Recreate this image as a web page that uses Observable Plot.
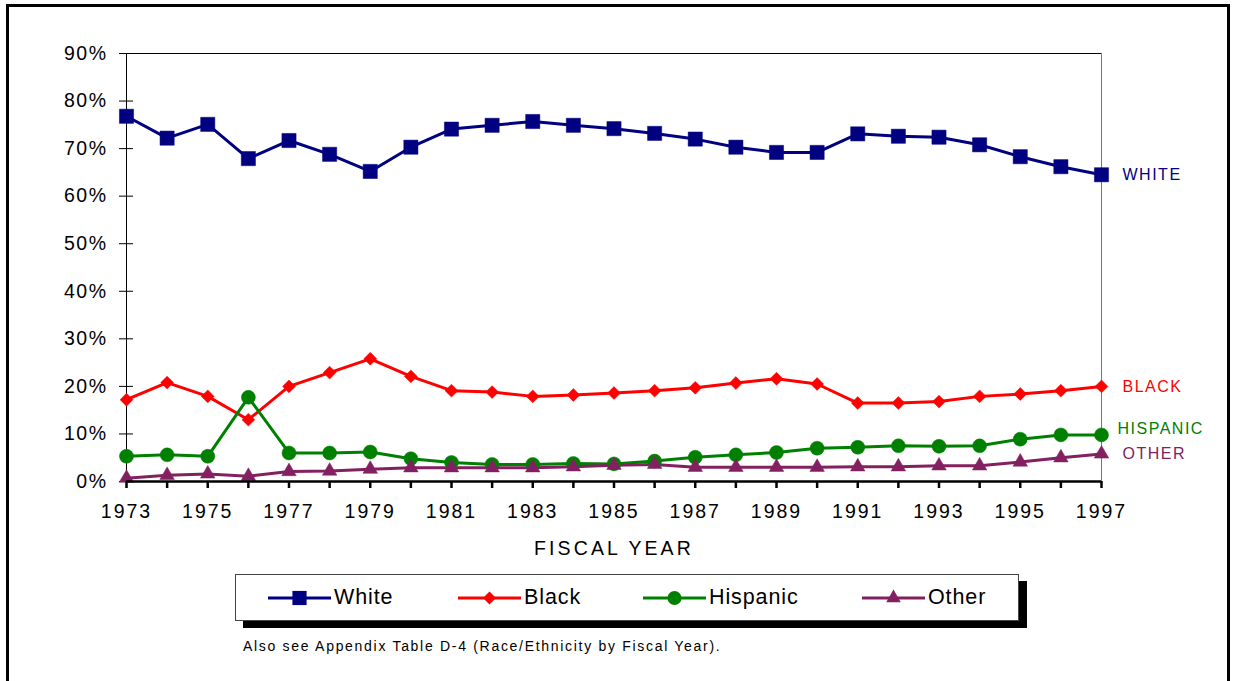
<!DOCTYPE html>
<html>
<head>
<meta charset="utf-8">
<script src="https://cdn.jsdelivr.net/npm/d3@7"></script>
<script src="https://cdn.jsdelivr.net/npm/@observablehq/plot@0.6"></script>
<style>
  body { margin: 0; background: #fff; font-family: "Liberation Sans", Arial, sans-serif; }
  #wrap { position: relative; width: 1233px; height: 681px; overflow: hidden; background: #fff; }
  #frame { position: absolute; left: 6px; top: 4px; width: 1218px; height: 720px; border: 3px solid #000; box-sizing: content-box; }
  #chart { position: absolute; left: 0; top: 0; }
  #legend { position: absolute; left: 235px; top: 574px; width: 782px; height: 45px; border: 1px solid #444; box-shadow: 8px 7px 0 #000; background: #fff; }
  .item { position: absolute; top: 0; height: 45px; display: flex; align-items: center; font-size: 21.5px; letter-spacing: 0.9px; color: #000; }
  .item svg { display: block; margin-right: 3px; }
  #caption { position: absolute; left: 243px; top: 638px; font-size: 14px; letter-spacing: 1.7px; color: #000; }
</style>
</head>
<body>
<div id="wrap">
  <div id="frame"></div>
  <div id="chart"></div>
  <div id="legend"></div>
  <div id="caption"></div>
</div>
<script>
// ---- data ----
const years = [1973,1974,1975,1976,1977,1978,1979,1980,1981,1982,1983,1984,1985,1986,1987,1988,1989,1990,1991,1992,1993,1994,1995,1996,1997];
const white    = [76.8,72.2,75.1,67.9,71.7,68.8,65.2,70.3,74.1,74.9,75.7,74.9,74.2,73.2,72.0,70.3,69.2,69.2,73.1,72.6,72.4,70.8,68.3,66.2,64.5];
const black    = [17.2,20.8,17.9,13.0,20.0,22.9,25.8,22.1,19.1,18.8,17.9,18.2,18.6,19.1,19.7,20.7,21.6,20.5,16.5,16.5,16.8,17.9,18.4,19.1,20.0];
const hispanic = [5.3,5.6,5.3,17.7,6.0,6.0,6.2,4.8,4.0,3.6,3.6,3.8,3.7,4.3,5.1,5.6,6.1,7.0,7.2,7.5,7.4,7.5,8.9,9.8,9.8];
const other    = [0.7,1.3,1.6,1.1,2.1,2.2,2.6,2.9,2.9,2.9,2.9,3.1,3.4,3.6,3.0,3.0,3.0,3.0,3.1,3.1,3.3,3.3,4.1,5.0,5.8];
const seriesNames = ["White","Black","Hispanic","Other"];
const endLabels = ["WHITE","BLACK","HISPANIC","OTHER"];
const seriesColors = ["#000080","#FF0000","#008000","#832062"];
const seriesSymbols = ["square","diamond2","circle","triangle"];
const yTicks = [0,10,20,30,40,50,60,70,80,90];
const xLabelYears = [1973,1975,1977,1979,1981,1983,1985,1987,1989,1991,1993,1995,1997];
const xTitle = "FISCAL YEAR";
const caption = "Also see Appendix Table D-4 (Race/Ethnicity by Fiscal Year).";

const seriesValues = [white, black, hispanic, other];
const rows = seriesNames.flatMap((s, i) => years.map((yr, j) => ({series: s, year: yr, value: seriesValues[i][j]})));
const symbolR = {White: 8, Black: 5.8, Hispanic: 7, Other: 5.4};

const marks = [
  Plot.ruleY([90], {stroke: "#000", strokeWidth: 1}),
  Plot.ruleX([1997], {stroke: "#777", strokeWidth: 1}),
  Plot.ruleX([1973], {stroke: "#000", strokeWidth: 1}),
  Plot.axisY(yTicks, {tickSize: 14, dx: 7, strokeWidth: 1, tickFormat: () => "", label: null}),
  Plot.axisY(yTicks, {tickSize: 0, tickPadding: 19, fontSize: 19.5, tickFormat: d => d + "%", label: null}),
  Plot.line(rows, {x: "year", y: "value", z: "series", stroke: "series", strokeWidth: 3, strokeLinejoin: "round"}),
];
seriesNames.forEach((s, i) => {
  marks.push(Plot.dot(rows.filter(d => d.series === s), {x: "year", y: "value", fill: seriesColors[i], symbol: seriesSymbols[i], r: symbolR[s], stroke: seriesColors[i], strokeWidth: 0.5}));
  const last = rows.filter(d => d.series === s).slice(-1);
  marks.push(Plot.text(last, {x: "year", y: "value", text: () => endLabels[i], fill: seriesColors[i], textAnchor: "start",
    dx: s === "Hispanic" ? 16 : 21, dy: s === "Hispanic" ? -6 : 0, fontSize: 16}));
});
marks.push(
  Plot.ruleY([0], {stroke: "#000", strokeWidth: 2.5}),
  Plot.axisX(years, {tickSize: 7, strokeWidth: 2.5, tickFormat: () => "", label: null}),
  Plot.axisX(xLabelYears, {tickSize: 0, tickPadding: 23, fontSize: 19.5, tickFormat: d => String(d), label: null}),
  Plot.text([xTitle], {frameAnchor: "bottom", dy: 73, text: d => d, fontSize: 19.5})
);

const chart = Plot.plot({
  width: 1233,
  height: 570,
  marginLeft: 126,
  marginRight: 132,
  marginTop: 53,
  marginBottom: 89,
  style: {fontFamily: "'Liberation Sans', Arial, sans-serif", background: "transparent", overflow: "visible", color: "#000"},
  x: {type: "linear", domain: [1973, 1997], axis: null},
  y: {domain: [0, 90], axis: null},
  color: {domain: seriesNames, range: seriesColors},
  marks
});
document.getElementById("chart").appendChild(chart);

// letter spacing of the chart's texts (set after render)
d3.select(chart).selectAll("text").each(function () {
  const t = this.textContent;
  let ls = null;
  if (/%$/.test(t)) ls = 1.5;
  else if (/^\d{4}$/.test(t)) ls = 2;
  else if (t === xTitle) ls = 3.1;
  else if (endLabels.includes(t)) ls = 1.5;
  if (ls !== null) {
    this.setAttribute("letter-spacing", ls + "px");
    this.style.letterSpacing = ls + "px";
  }
});

// ---- legend (HTML box below the plot) ----
const legend = document.getElementById("legend");
const itemLeft = [32, 222, 407, 626];
const symMap = {square: d3.symbolSquare, diamond2: d3.symbolDiamond2, circle: d3.symbolCircle, triangle: d3.symbolTriangle};
seriesNames.forEach((s, i) => {
  const item = document.createElement("div");
  item.className = "item";
  item.style.left = itemLeft[i] + "px";
  const svg = d3.create("svg").attr("width", 63).attr("height", 20);
  svg.append("line").attr("x1", 0).attr("x2", 63).attr("y1", 10).attr("y2", 10).attr("stroke", seriesColors[i]).attr("stroke-width", 3);
  const r = symbolR[s];
  svg.append("path").attr("transform", "translate(31.5,10)").attr("fill", seriesColors[i])
    .attr("d", d3.symbol(symMap[seriesSymbols[i]], Math.PI * r * r)());
  item.appendChild(svg.node());
  const span = document.createElement("span");
  span.textContent = s;
  item.appendChild(span);
  legend.appendChild(item);
});
document.getElementById("caption").textContent = caption;
</script>
</body>
</html>
